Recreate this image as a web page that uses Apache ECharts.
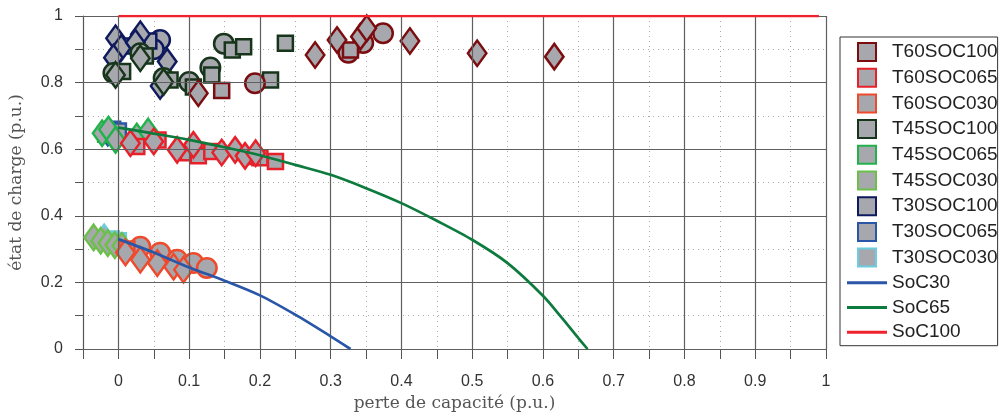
<!DOCTYPE html>
<html><head><meta charset="utf-8">
<script src="https://cdn.jsdelivr.net/npm/echarts@6/dist/echarts.min.js"></script>
<style>html,body{margin:0;padding:0;background:#fff}#c{width:1002px;height:414px}</style>
</head><body><div id="c"></div>
<script>
// ---- data ----
const xMajor = [0,0.1,0.2,0.3,0.4,0.5,0.6,0.7,0.8,0.9,1];
const yMajor = [0,0.2,0.4,0.6,0.8,1];
const testNames = ['T60SOC100','T60SOC065','T60SOC030','T45SOC100','T45SOC065','T45SOC030','T30SOC100','T30SOC065','T30SOC030'];
const lineNames = ['SoC30','SoC65','SoC100'];
// points: [perte de capacité, état de charge, shape] shape: c=circle, s=square, d=diamond
const T60SOC100 = [[0.193,0.798,'c'],[0.325,0.89,'c'],[0.346,0.919,'c'],[0.374,0.948,'c'],
  [0.146,0.776,'s'],[0.328,0.898,'s'],
  [0.113,0.768,'d'],[0.278,0.883,'d'],[0.309,0.928,'d'],[0.342,0.938,'d'],[0.351,0.963,'d'],[0.412,0.925,'d'],[0.507,0.888,'d'],[0.616,0.878,'d']];
const T60SOC065 = [[0.026,0.608,'s'],[0.056,0.628,'s'],[0.099,0.589,'s'],[0.113,0.58,'s'],[0.132,0.593,'s'],[0.186,0.578,'s'],[0.2,0.574,'s'],[0.222,0.563,'s'],
  [0.017,0.618,'d'],[0.05,0.623,'d'],[0.083,0.598,'d'],[0.106,0.613,'d'],[0.146,0.59,'d'],[0.165,0.598,'d'],[0.179,0.58,'d'],[0.194,0.588,'d']];
const T60SOC030 = [[0.031,0.307,'c'],[0.059,0.289,'c'],[0.083,0.268,'c'],[0.106,0.258,'c'],[0.125,0.243,'c'],
  [0.012,0.3,'s'],
  [0.01,0.29,'d'],[0.031,0.268,'d'],[0.055,0.258,'d'],[0.078,0.247,'d'],[0.092,0.238,'d']];
const T45SOC100 = [[-0.007,0.829,'c'],[0.031,0.888,'c'],[0.064,0.814,'c'],[0.1,0.802,'c'],[0.13,0.845,'c'],[0.149,0.917,'c'],
  [0.006,0.833,'s'],[0.038,0.88,'s'],[0.073,0.808,'s'],[0.106,0.787,'s'],[0.132,0.823,'s'],[0.161,0.898,'s'],[0.177,0.908,'s'],[0.215,0.808,'s'],[0.236,0.918,'s'],
  [-0.004,0.823,'d'],[0.031,0.873,'d'],[0.064,0.802,'d']];
const T45SOC065 = [[-0.018,0.645,'s'],
  [-0.023,0.648,'d'],[-0.014,0.659,'d'],[-0.004,0.628,'d'],[0.026,0.638,'d'],[0.042,0.653,'d']];
const T45SOC030 = [[-0.035,0.335,'d'],[-0.025,0.325,'d'],[-0.015,0.318,'d'],[-0.005,0.312,'d'],[0.005,0.31,'d']];
const T30SOC100 = [[0.059,0.928,'c'],[0.05,0.9,'c'],
  [0.014,0.91,'s'],[0.043,0.925,'s'],
  [-0.004,0.933,'d'],[0.004,0.904,'d'],[-0.007,0.875,'d'],[0.031,0.945,'d'],[0.024,0.92,'d'],[0.069,0.863,'d'],[0.059,0.79,'d']];
const T30SOC065 = [[-0.008,0.66,'s'],[0.0,0.655,'s'],[-0.015,0.65,'d']];
const T30SOC030 = [[-0.01,0.33,'s'],[0.0,0.325,'s'],[-0.02,0.335,'d']];
const SoC30 = [[0,0.33],[0.05,0.29],[0.1,0.245],[0.15,0.205],[0.2,0.161],[0.25,0.103],[0.3,0.038],[0.328,0]];
const SoC65 = [[0,0.665],[0.05,0.647],[0.1,0.628],[0.15,0.606],[0.2,0.582],[0.25,0.553],[0.3,0.523],[0.35,0.483],[0.4,0.438],[0.45,0.385],[0.5,0.328],[0.55,0.258],[0.6,0.16],[0.625,0.098],[0.65,0.033],[0.663,0]];
const SoC100 = [[0,1],[0.99,1]];

// ---- styles ----
const edge = {T60SOC100:'#7b0c10',T60SOC065:'#e8202a',T60SOC030:'#ef4a2c',T45SOC100:'#16351a',T45SOC065:'#22b24c',T45SOC030:'#6cc04a',T30SOC100:'#0f1a5e',T30SOC065:'#2a56a8',T30SOC030:'#6ccde0'};
const lineColor = {SoC30:'#2a56a8',SoC65:'#0d7a3e',SoC100:'#f0222c'};
const FILL = '#a7a8ad';
const shapeSym = {c:'circle', s:'rect', d:'diamond'};
const shapeSize = {c:19.5, s:15, d:[18.5,25.5]};
const SQ = 'path://M0,0L10,0L10,10L0,10Z';
const LN = 'path://M0,0L40,0L40,3L0,3Z';
const dataOf = {T60SOC100,T60SOC065,T60SOC030,T45SOC100,T45SOC065,T45SOC030,T30SOC100,T30SOC065,T30SOC030};
const drawOrder = ['T30SOC030','T30SOC065','T30SOC100','T45SOC030','T45SOC065','T45SOC100','T60SOC030','T60SOC065','T60SOC100'];

const series = [];
series.push({type:'line', name:'grid', data:[], silent:true, z:1, symbol:'none',
  markLine:{silent:true, symbol:['none','none'], label:{show:false}, animation:false,
    lineStyle:{color:'#5f5f5f', type:'solid', width:1.2},
    data:[...xMajor.map(v=>({xAxis:v})), ...yMajor.map(v=>({yAxis:v}))]}});
drawOrder.forEach(n=>{
  ['c','s','d'].forEach(sh=>{
    const pts = dataOf[n].filter(p=>p[2]===sh).map(p=>[p[0],p[1]]);
    series.push({type:'scatter', name:n, data:pts, symbol:shapeSym[sh], symbolSize:shapeSize[sh], z:3,
      itemStyle:{color:FILL, borderColor:edge[n], borderWidth:2.5, opacity:1}});
  });
});
const lineData = {SoC30, SoC65, SoC100};
lineNames.forEach(n=>{
  series.push({type:'line', name:n, data:lineData[n], smooth:0.3, symbol:'none', showSymbol:false, z:5,
    lineStyle:{color:lineColor[n], width:2.7}, itemStyle:{color:lineColor[n], borderWidth:0}});
});

const fmtX = v=>{const k=Math.round(v*100); if(k<0||k%10) return ''; return String(k/100);};
const fmtY = v=>{const k=Math.round(v*100); if(k%20) return ''; return String(k/100);};

const chart = echarts.init(document.getElementById('c'), null, {renderer:'canvas'});
chart.setOption({
  animation:false,
  backgroundColor:'#fff',
  grid:{left:83, right:176, top:16, bottom:65, containLabel:false, outerBoundsMode:'none'},
  xAxis:{type:'value', min:-0.05, max:1, interval:0.05,
    name:'perte de capacité (p.u.)', nameLocation:'middle', nameGap:45,
    nameTextStyle:{fontFamily:'DejaVu Serif', fontSize:17, color:'#555'},
    axisLine:{show:true, onZero:false, lineStyle:{color:'#555', width:1.2}},
    axisTick:{show:true, length:10, lineStyle:{color:'#555'}},
    axisLabel:{formatter:fmtX, margin:25, fontSize:16, color:'#333', fontFamily:'Liberation Sans'},
    splitLine:{show:true, lineStyle:{color:'#aaa', type:[1,4], width:1}}},
  yAxis:{type:'value', min:0, max:1, interval:0.1,
    name:'état de charge (p.u.)', nameLocation:'middle', nameGap:58,
    nameTextStyle:{fontFamily:'DejaVu Serif', fontSize:17, color:'#555'},
    axisLine:{show:true, onZero:false, lineStyle:{color:'#555', width:1.2}},
    axisTick:{show:true, length:8, lineStyle:{color:'#555'}},
    axisLabel:{formatter:fmtY, margin:20, fontSize:16, color:'#333', fontFamily:'Liberation Sans'},
    splitLine:{show:true, lineStyle:{color:'#aaa', type:[1,4], width:1}}},
  legend:{data:[...testNames.map(n=>({name:n, icon:SQ})), ...lineNames.map(n=>({name:n, icon:LN}))],
    orient:'vertical', left:840, top:37, padding:[5,0,4,7], itemWidth:40, itemHeight:18, itemGap:5.7,
    borderColor:'#333', borderWidth:1, backgroundColor:'#fff',
    textStyle:{fontSize:19, fontFamily:'Liberation Sans', color:'#222', lineHeight:18}},
  series
});
</script></body></html>
